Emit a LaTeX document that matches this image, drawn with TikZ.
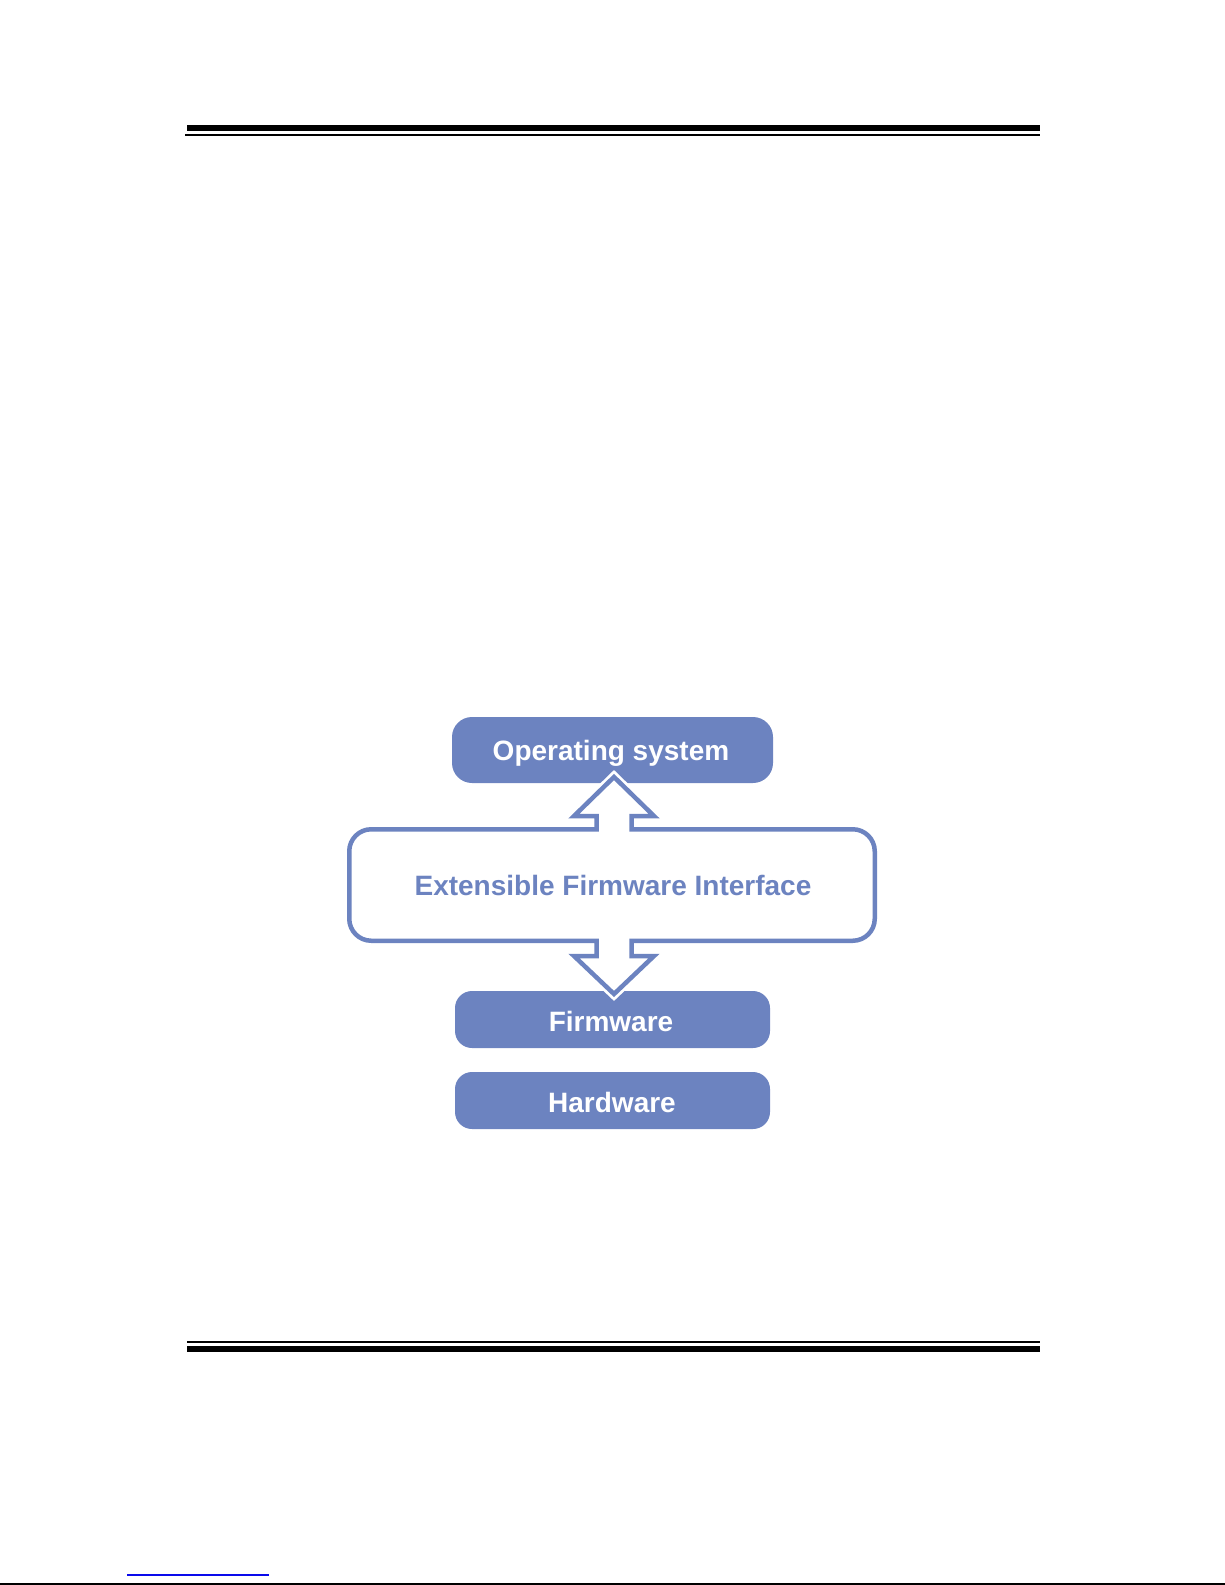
\documentclass[tikz,border=0pt]{standalone}
\usepackage{fontspec}
\setmainfont{Liberation Sans}
\definecolor{efiblue}{RGB}{108,131,192}
\definecolor{linkblue}{RGB}{10,10,235}
\tikzset{
  bluebox/.style={draw=none, fill=efiblue, inner sep=0pt},
  boxlabel/.style={anchor=base, inner sep=0pt, text=white, font=\fontsize{28}{34}\selectfont\bfseries},
  efilabel/.style={anchor=base, inner sep=0pt, text=efiblue, font=\fontsize{28}{34}\selectfont\bfseries},
  rulethick/.style={draw=black, line width=5.5pt},
  rulethin/.style={draw=black, line width=2pt},
}
\def\efipath{(371.25,829.25) -- (596.5,829.25) -- (596.5,816) -- (574,816) -- (614,777) -- (654,816) -- (631.5,816) -- (631.5,829.25) -- (852.75,829.25)
 .. controls (864.89,829.25) and (874.75,839.11) .. (874.75,851.25)
 -- (874.75,918.75)
 .. controls (874.75,930.89) and (864.89,940.75) .. (852.75,940.75)
 -- (631.5,940.75) -- (631.5,956) -- (654,956) -- (614,994) -- (574,956) -- (596.5,956) -- (596.5,940.75) -- (371.25,940.75)
 .. controls (359.11,940.75) and (349.25,930.89) .. (349.25,918.75)
 -- (349.25,851.25)
 .. controls (349.25,839.11) and (359.11,829.25) .. (371.25,829.25) -- cycle}
\begin{document}
\begin{tikzpicture}[x=1pt,y=-1pt]
\useasboundingbox (0,0) rectangle (1225,1585);
% page rules
\coordinate (t1a) at (187,128.2); \coordinate (t1b) at (1040,128.2);
\coordinate (t2a) at (185,135);   \coordinate (t2b) at (1040,135);
\coordinate (b1a) at (187,1342);  \coordinate (b1b) at (1040,1342);
\coordinate (b2a) at (187,1349);  \coordinate (b2b) at (1040,1349);
\draw[rulethick] (t1a) -- (t1b);
\draw[rulethin] (t2a) -- (t2b);
\draw[rulethin] (b1a) -- (b1b);
\draw[rulethick] (b2a) -- (b2b);
\coordinate (la) at (127,1575); \coordinate (lb) at (269,1575);
\draw[linkblue, line width=1.4pt] (la) -- (lb);
\coordinate (fa) at (0,1584.2); \coordinate (fb) at (1225,1584.2);
\draw[black, line width=1.6pt] (fa) -- (fb);
% boxes
\node[bluebox, rounded corners=20pt, minimum width=321pt, minimum height=66pt] (os) at (612.5,750) {};
\node[bluebox, rounded corners=17pt, minimum width=315pt, minimum height=57pt] (fw) at (612.5,1019.5) {};
\node[bluebox, rounded corners=17pt, minimum width=315pt, minimum height=57pt] (hw) at (612.5,1100.5) {};
% EFI shape with double arrow
\draw[white, line width=10pt, line join=miter] \efipath;
\draw[efiblue, fill=white, line width=4.5pt, line join=miter] \efipath;
\node[efilabel] (efi) at (613,895.5) {Extensible Firmware Interface};
\node[boxlabel] (ostext) at (611,760.5) {Operating system};
\node[boxlabel] (fwtext) at (611,1031.5) {Firmware};
\node[boxlabel] (hwtext) at (612,1112.5) {Hardware};
\end{tikzpicture}
\end{document}
